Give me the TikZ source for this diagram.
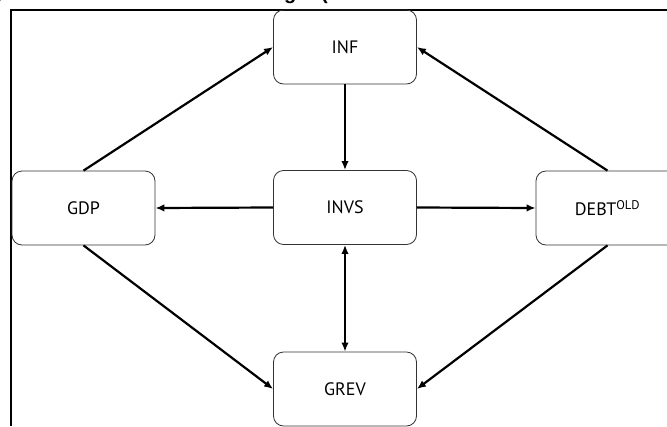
\documentclass[tikz,border=0pt]{standalone}
\usepackage{fontspec}
\setmainfont{PT Sans}
\newfontfamily\titlefont{Liberation Sans}
\usetikzlibrary{arrows.meta}
\tikzset{
  box/.style={draw=black!80, line width=0.8pt, rounded corners=10pt,
    minimum width=143pt, minimum height=74pt, inner sep=0pt,
    font=\fontsize{18}{20}\selectfont},
  conn/.style={line width=2.2pt, -{Latex[length=9pt,width=7.5pt]}},
  frameline/.style={line width=2pt, black}
}
\begin{document}
\begin{tikzpicture}[x=1pt,y=-1pt]
\useasboundingbox (0,0) rectangle (667,426);
% clipped title fragments
\node[anchor=base west, inner sep=0pt, font=\titlefont\bfseries\fontsize{20}{22}\selectfont] (ttl1) at (-6,-0.8) {y};
\node[anchor=base west, inner sep=0pt, font=\titlefont\bfseries\fontsize{20}{22}\selectfont] (ttl2) at (284,-0.8) {g};
\node[anchor=base west, inner sep=0pt, font=\titlefont\bfseries\fontsize{20}{22}\selectfont] (ttl3) at (321,-0.8) {(};
% frame
\coordinate (fa) at (11,426);
\coordinate (fb) at (11,9.5);
\coordinate (fc) at (668,9.5);
\draw[frameline] (fa) -- (fb) -- (fc);
% nodes
\node[box] (inf) at (345,47) {INF};
\node[box] (invs) at (345,207.5) {INVS};
\node[box] (gdp) at (83.5,208) {GDP};
\node[box] (debt) at (607.5,208) {DEBT\textsuperscript{OLD}};
\node[box] (grev) at (345,389) {GREV};
% connectors
\draw[conn] (inf.south) -- (invs.north);
\draw[conn] (invs.west) -- (gdp.east);
\draw[conn] (invs.east) -- (debt.west);
\draw[conn, {Latex[length=9pt,width=7.5pt]}-{Latex[length=9pt,width=7.5pt]}] (invs.south) -- (grev.north);
\draw[conn] (gdp.north) -- (inf.west);
\draw[conn] (debt.north) -- (inf.east);
\draw[conn] (gdp.south) -- (grev.west);
\draw[conn] (debt.south) -- (grev.east);
\end{tikzpicture}
\end{document}
